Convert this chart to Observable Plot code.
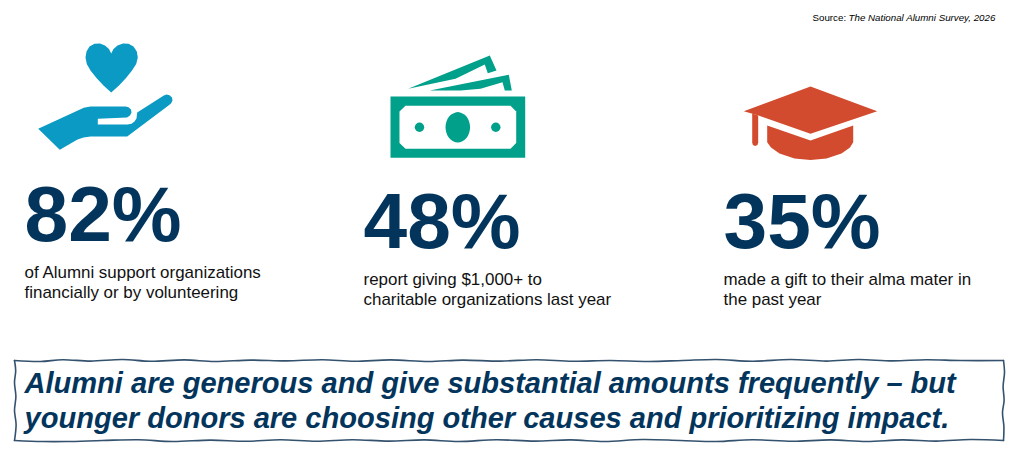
<!DOCTYPE html>
<html>
<head>
<meta charset="utf-8">
<script src="https://cdn.jsdelivr.net/npm/d3@7"></script>
<script src="https://cdn.jsdelivr.net/npm/@observablehq/plot@0.6"></script>
<style>
html,body{margin:0;padding:0;background:#fff}
svg{display:block}
</style>
</head>
<body>
<div id="chart"></div>
<script>
// ---- content ----
const percents = [82, 48, 35];
const captions = [
  ["of Alumni support organizations", "financially or by volunteering"],
  ["report giving $1,000+ to", "charitable organizations last year"],
  ["made a gift to their alma mater in", "the past year"]
];
const sourceLabel = "Source:";
const sourceTitle = "The National Alumni Survey, 2026";
const banner = [
  "Alumni are generous and give substantial amounts frequently \u2013 but",
  "younger donors are choosing other causes and prioritizing impact."
];

// ---- layout ----
const FONT = "'Liberation Sans', Arial, sans-serif";
const NAVY = "#03355c";
const columnX = [24, 363, 723];
const percentY = [240, 247, 247];
const captionY = [[277, 297], [284, 304], [284, 304]];
const bannerY = [392, 427];

// ---- pictogram outlines ----
const heart = [[110.7,53],[108.5,48.5],[104.5,45],[99.5,43],[94,43.2],[89,46],[86,51],[85,57],[86.3,63.5],[90,70],[96,77.5],[103,85],[110.7,92],[118.5,85],[125.5,77.5],[131.5,70],[135.7,63.5],[137.3,57],[136.3,51],[133,46],[128,43.2],[122.5,43],[117,45],[113,48.5]];
const hand = [[37.7,128.3],[83.3,107.3],[90,106],[125,106],[128,106.7],[130.5,109],[131,112],[129.5,115],[126.5,117],[97.3,118.3],[97.3,124],[127,124],[131,123.2],[134,121],[136,118],[136.7,112],[163.3,95],[166,94],[169,94.7],[171.5,97],[172,100],[170.5,103],[168,105],[126.7,136],[90,136],[83,137],[77,139],[59.3,149.3]];
const noteBack = [[407.7,88.3],[489.3,55],[496,70],[487.3,72.7],[484.3,64],[455,78.3]];
const noteMiddle = [[429.3,90],[508.3,74.3],[511.3,90],[504.3,90],[502,81.7],[480,88.3],[460,90]];
const billOuter = [[390,96],[524.7,96],[524.7,157.3],[390,157.3]];
const billInner = [[405,105.3],[510,105.3],[515.7,111],[515.7,142.5],[510,148.3],[405,148.3],[399,142.5],[399,111]];
const billOval = [[457.3,111.4],[466,116],[469.6,126.7],[466,137.5],[457.3,142],[448.6,137.5],[445,126.7],[448.6,116]];
const billDots = [[419,126.7],[495.3,126.7]];
const capTop = [[743.3,110.7],[810,86],[876.7,110.7],[810,133.3],[758,115]];
const capTassel = [[751.7,113],[757.7,115],[757.7,142],[757,144.5],[754.7,145.5],[752.4,144.5],[751.7,142]];
const capBase = [[766.7,125],[810,140],[852.7,125],[852.7,141.7],[849.5,147],[841,153],[826,158],[810,159.5],[794,158],[779,153],[770.5,147],[766.7,141.7]];
const frameTop = [[14,360],[40,361],[62,359.2],[90,360.6],[122,359],[150,360.8],[184,359.4],[214,361],[250,359.6],[286,360.4],[322,359.2],[354,360.8],[390,359.4],[428,361],[462,359.6],[500,360.6],[536,359.2],[572,360.8],[610,360],[648,361],[682,360],[716,359],[752,360.8],[790,359],[826,360.6],[858,359],[892,360.4],[926,359.2],[960,360],[1003,360]];
const frameRight = [[1003,360],[1004,372],[1002.6,386],[1003.6,400],[1002,412],[1003.4,426],[1003,440]];
const frameBottom = [[1003,440],[970,439],[936,440.6],[902,439.4],[866,441],[830,439.4],[792,440.8],[752,439.2],[716,441],[680,440],[642,439],[604,441],[570,439.4],[534,440.6],[496,439.2],[458,441],[424,439.4],[388,440.6],[352,439.2],[316,440.8],[280,439.2],[246,440.8],[210,439.6],[172,441],[138,439.2],[102,440],[66,441],[42,441],[14,440]];
const frameLeft = [[14,440],[15.6,424],[14,410],[15.4,396],[14,382],[15.2,370],[14,360]];

const shape = (pts, fill, curve = "linear-closed") =>
  Plot.line(pts, {x: d => d[0], y: d => d[1], fill, stroke: "none", curve});

const frameSide = (pts) =>
  Plot.line(pts, {x: d => d[0], y: d => d[1], stroke: "#34526e", strokeWidth: 1.6, curve: "catmull-rom"});

const label = (text, x, y, o) =>
  Plot.text([text], {x: () => x, y: () => y, text: d => d, textAnchor: "start", lineAnchor: "bottom", fontFamily: FONT, ...o});

const BLUE = "#0a9ac4", GREEN = "#00a08a", RED = "#d24b2e";

const marks = [
  shape(heart, BLUE), shape(hand, BLUE),
  shape(noteBack, GREEN), shape(noteMiddle, GREEN),
  shape(billOuter, GREEN), shape(billInner, "#fff"),
  shape(billOval, GREEN, "catmull-rom-closed"),
  Plot.dot(billDots, {x: d => d[0], y: d => d[1], r: 4.7, fill: GREEN, stroke: "none"}),
  shape(capTop, RED), shape(capTassel, RED), shape(capBase, RED),
  label(sourceLabel, 812, 20.5, {fontSize: 9.75, fill: "#000"}),
  label(sourceTitle, 848, 20.5, {fontSize: 9.75, fill: "#000", fontStyle: "italic"}),
  frameSide(frameTop), frameSide(frameRight), frameSide(frameBottom), frameSide(frameLeft)
];
percents.forEach((v, i) => {
  marks.push(label(`${v}%`, columnX[i], percentY[i], {fontSize: 78.5, fontWeight: "bold", fill: NAVY, lineHeight: 1}));
  captions[i].forEach((line, j) =>
    marks.push(label(line, columnX[i], captionY[i][j], {fontSize: 16.95, fill: "#111"})));
});
banner.forEach((line, j) =>
  marks.push(label(line, 24, bannerY[j], {fontSize: 29.05, fontWeight: "bold", fontStyle: "italic", fill: NAVY})));

document.getElementById("chart").append(Plot.plot({
  width: 1020, height: 460, margin: 0,
  x: {domain: [0, 1020], range: [0, 1020], axis: null},
  y: {domain: [0, 460], range: [0, 460], axis: null},
  style: {background: "#fff", fontFamily: FONT},
  marks
}));
</script>
</body>
</html>
